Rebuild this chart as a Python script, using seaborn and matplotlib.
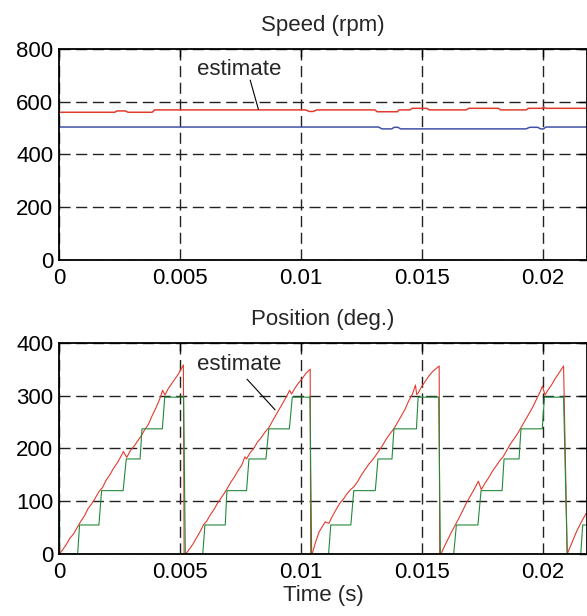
import matplotlib
matplotlib.use("Agg")
import matplotlib.pyplot as plt
import seaborn as sns

# speed (rpm)
speed_est_t = [0, 0.00230, 0.00240, 0.00275, 0.00285, 0.00385, 0.00395, 0.01018, 0.01035,
               0.01050, 0.01066, 0.01305, 0.01315, 0.01398, 0.01406, 0.01450, 0.01460, 0.01520,
               0.01530, 0.01683, 0.01693, 0.01815, 0.01825, 0.01930, 0.01940, 0.01998, 0.02003,
               0.02010, 0.0219]
speed_est = [560, 560, 565, 565, 560, 560, 569, 569, 563, 563, 569, 569, 562, 562, 569, 569,
             575, 575, 569, 569, 575, 575, 569, 569, 575, 575, 580, 575, 575]
speed_act_t = [0, 0.01320, 0.01335, 0.01375, 0.01385, 0.01400, 0.01412, 0.01930, 0.01945,
               0.01978, 0.01990, 0.02002, 0.02012, 0.0219]
speed_act = [504, 504, 497, 497, 503, 503, 497, 497, 503, 503, 497, 497, 504, 504]

# position (deg.) - estimate
pos_est_t = [0, 0.00002, 0.00015, 0.0003, 0.00045, 0.0006, 0.00075, 0.0009, 0.00105, 0.0012,
             0.00135, 0.0015, 0.00165, 0.0018, 0.00195, 0.0021, 0.00225, 0.0024, 0.00255,
             0.00266, 0.0028, 0.00295, 0.0031, 0.00325, 0.0034, 0.00355, 0.0037, 0.00385,
             0.004, 0.00415, 0.00428, 0.00438, 0.0045, 0.00465, 0.0048, 0.00495, 0.00514,
             0.00517, 0.00524,
             0.0054, 0.00555, 0.0057, 0.00585, 0.00598, 0.0061, 0.00625, 0.0064, 0.00655,
             0.0067, 0.00683, 0.00695, 0.0071, 0.00725, 0.0074, 0.00755, 0.00768, 0.00775,
             0.0079, 0.00805, 0.0082, 0.00835, 0.0085, 0.00868, 0.0088, 0.00895, 0.0091,
             0.00925, 0.0094, 0.00953, 0.00961, 0.00975, 0.0099, 0.01005, 0.0102, 0.01038,
             0.0104, 0.01046,
             0.0106, 0.01075, 0.011, 0.01115, 0.0113, 0.01145, 0.0116, 0.01175, 0.0119,
             0.01205, 0.0122, 0.01235, 0.0125, 0.01265, 0.0128, 0.01295, 0.01308, 0.0132,
             0.01335, 0.0135, 0.01365, 0.01385, 0.014, 0.01415, 0.0143, 0.01445, 0.0146,
             0.01473, 0.01478, 0.01483, 0.015, 0.01515, 0.0153, 0.01545, 0.01571, 0.01573,
             0.01578,
             0.0159, 0.01605, 0.0162, 0.0164, 0.01655, 0.0167, 0.01685, 0.017, 0.01715,
             0.01733, 0.01745, 0.0176, 0.01775, 0.0179, 0.01805, 0.0182, 0.01835, 0.0185,
             0.01865, 0.0188, 0.01895, 0.0191, 0.01925, 0.0194, 0.01955, 0.0197, 0.01985,
             0.01998, 0.02008, 0.0202, 0.02035, 0.0205, 0.02065, 0.02085, 0.02100,
             0.0212, 0.0214, 0.0216, 0.0218, 0.0219]
pos_est = [360, 0, 8, 18, 30, 38, 50, 62, 72, 86,
           95, 106, 118, 126, 140, 150, 162, 172, 184,
           194, 183, 196, 204, 214, 224, 236, 246, 262,
           276, 292, 310, 301, 312, 322, 332, 342, 358,
           0, 0,
           10, 20, 32, 44, 56, 62, 74, 84, 96,
           106, 115, 124, 136, 146, 158, 168, 184, 180,
           192, 200, 212, 220, 230, 240, 250, 262, 274,
           286, 298, 310, 303, 314, 324, 332, 342, 350,
           0, 0,
           22, 42, 61, 58, 72, 84, 96, 104, 114,
           122, 128, 138, 150, 160, 170, 178, 186, 194,
           204, 216, 226, 238, 250, 262, 274, 290, 302,
           320, 302, 304, 318, 328, 338, 346, 356, 0,
           0,
           12, 26, 40, 57, 70, 84, 98, 110, 122,
           138, 122, 134, 144, 156, 166, 176, 184, 196,
           208, 218, 228, 240, 252, 264, 276, 290, 304,
           318, 301, 310, 320, 332, 342, 356, 0,
           22, 44, 62, 78, 86]

# position (deg.) - measured (hall sensors)
pos_act_t = [0, 0.00003, 0.00077, 0.00085, 0.00165, 0.00176, 0.00265, 0.00278, 0.00335,
             0.00343, 0.00427, 0.00437, 0.00515, 0.00522,
             0.00594, 0.00603, 0.00687, 0.00694, 0.00775, 0.00785, 0.00855, 0.00867,
             0.00952, 0.00964, 0.01037, 0.01044,
             0.01114, 0.01123, 0.01206, 0.01218, 0.01307, 0.01318, 0.01376, 0.01384,
             0.01477, 0.01484, 0.01569, 0.01576,
             0.01631, 0.01642, 0.01731, 0.01744, 0.01831, 0.01839, 0.01901, 0.01909,
             0.01997, 0.02006, 0.02085, 0.02100,
             0.02156, 0.02164, 0.0219]
pos_act = [297, 0, 0, 55, 55, 120, 120, 180, 180,
           237, 237, 297, 297, 0,
           0, 55, 55, 120, 120, 180, 180, 237,
           237, 297, 297, 0,
           0, 55, 55, 120, 120, 180, 180, 237,
           237, 297, 297, 0,
           0, 55, 55, 120, 120, 180, 180, 237,
           237, 297, 297, 0,
           0, 55, 55]

x_ticks = [0, 0.005, 0.01, 0.015, 0.02]
x_labels = ["0", "0.005", "0.01", "0.015", "0.02"]
speed_ticks = [0, 200, 400, 600, 800]
pos_ticks = [0, 100, 200, 300, 400]

sns.set_style("white")
plt.rcParams['font.family'] = ['Liberation Sans', 'DejaVu Sans']
plt.rcParams['font.size'] = 16

fig = plt.figure(figsize=(5.87, 6.16), dpi=100)
ax1 = fig.add_axes([0.1005, 0.578, 0.8995, 0.3425])
ax2 = fig.add_axes([0.1005, 0.1006, 0.8995, 0.343])

red = "#e23b2e"
blue = "#4052a6"
green = "#238a3b"

sns.lineplot(x=speed_est_t, y=speed_est, ax=ax1, color=red, linewidth=1.1,
             estimator=None, sort=False)
sns.lineplot(x=speed_act_t, y=speed_act, ax=ax1, color=blue, linewidth=1.1,
             estimator=None, sort=False)
sns.lineplot(x=pos_est_t, y=pos_est, ax=ax2, color=red, linewidth=0.8,
             estimator=None, sort=False)
sns.lineplot(x=pos_act_t, y=pos_act, ax=ax2, color=green, linewidth=0.8,
             estimator=None, sort=False)

for ax, yt, title in [(ax1, speed_ticks, "Speed (rpm)"), (ax2, pos_ticks, "Position (deg.)")]:
    ax.set_xlim(0, 0.021818)
    ax.set_ylim(yt[0], yt[-1])
    ax.set_xticks(x_ticks)
    ax.set_xticklabels(x_labels)
    ax.set_yticks(yt)
    ax.set_yticklabels([str(v) for v in yt])
    ax.grid(True, color="#222222", linestyle=(0, (8, 4)), linewidth=1.0)
    ax.tick_params(direction="in", length=6, width=1, top=True, right=True,
                   labelsize=16, colors="black")
    ax.tick_params(axis="x", pad=6)
    ax.tick_params(axis="y", pad=4)
    for s in ax.spines.values():
        s.set_color("black")
        s.set_linewidth(1.3)
    ax.set_title(title, fontsize=16, pad=13)
    ax.set_xlabel("")
    ax.set_ylabel("")

ax2.set_xlabel("Time (s)", fontsize=16, labelpad=1)

ax1.text(0.00746, 724, "estimate", ha="center", va="center", fontsize=16)
ax1.annotate("", xy=(0.00824, 571), xytext=(0.0079, 682),
             arrowprops=dict(arrowstyle="-", color="black", lw=0.8,
                             shrinkA=0, shrinkB=0))
ax2.text(0.00746, 358, "estimate", ha="center", va="center", fontsize=16)
ax2.annotate("", xy=(0.00893, 273), xytext=(0.00777, 331),
             arrowprops=dict(arrowstyle="-", color="black", lw=0.8,
                             shrinkA=0, shrinkB=0))

plt.savefig("out.png", dpi=100)
